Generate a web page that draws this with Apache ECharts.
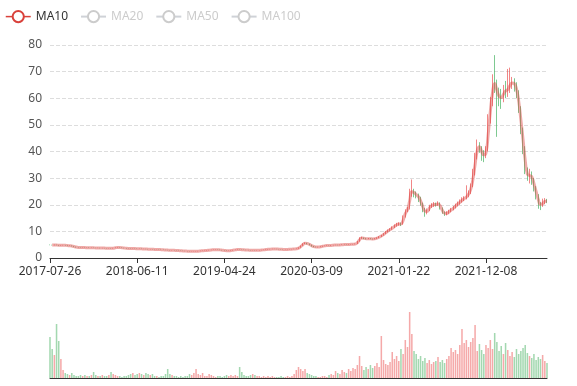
<!DOCTYPE html>
<html>
<head>
<meta charset="utf-8">
<script src="https://cdn.jsdelivr.net/npm/echarts@6/dist/echarts.min.js"></script>
<style>html,body{margin:0;padding:0;background:#fff}#c{width:577px;height:386px}</style>
</head>
<body>
<div id="c"></div>
<script>
// Tick labels on the category axis (one every labelStep candles)
const tickDates = ['2017-07-26', '2018-06-11', '2019-04-24', '2020-03-09', '2021-01-22', '2021-12-08'];
const labelStep = 40;

// Candles: [open, close, low, high] (each candle ~ one trading week)
const candles = [
[4.95,4.90,4.80,5.05],[4.90,4.80,4.72,4.98],[4.80,4.95,4.76,5.02],[4.95,4.85,4.78,5.00],[4.85,4.70,4.62,4.90],
[4.70,4.80,4.66,4.86],[4.80,4.85,4.74,4.92],[4.85,4.75,4.68,4.90],[4.75,4.60,4.55,4.80],[4.60,4.65,4.52,4.72],
[4.65,4.40,4.36,4.70],[4.40,4.20,4.15,4.45],[4.20,4.00,3.94,4.25],[4.00,3.95,3.88,4.06],[3.95,3.90,3.84,4.00],
[3.90,3.95,3.86,4.02],[3.95,3.85,3.80,3.98],[3.85,3.90,3.81,3.96],[3.90,3.80,3.75,3.94],[3.80,3.85,3.76,3.90],
[3.85,3.80,3.74,3.89],[3.80,3.75,3.70,3.84],[3.75,3.80,3.71,3.85],[3.80,3.70,3.65,3.83],[3.70,3.75,3.66,3.80],
[3.75,3.70,3.64,3.78],[3.70,3.65,3.60,3.74],[3.65,3.70,3.61,3.75],[3.70,3.60,3.56,3.73],[3.60,3.75,3.58,3.80],
[3.75,3.90,3.72,3.96],[3.90,4.00,3.86,4.08],[4.00,3.90,3.85,4.04],[3.90,3.80,3.75,3.94],[3.80,3.70,3.66,3.84],
[3.70,3.60,3.55,3.74],[3.60,3.55,3.50,3.65],[3.55,3.50,3.45,3.60],[3.50,3.55,3.46,3.60],[3.55,3.50,3.45,3.58],
[3.50,3.45,3.40,3.54],[3.45,3.50,3.42,3.56],[3.50,3.40,3.36,3.53],[3.40,3.40,3.34,3.46],[3.40,3.35,3.30,3.44],
[3.35,3.30,3.25,3.40],[3.30,3.30,3.24,3.36],[3.30,3.25,3.20,3.34],[3.25,3.20,3.15,3.29],[3.20,3.20,3.14,3.26],
[3.20,3.15,3.10,3.24],[3.15,3.10,3.05,3.19],[3.10,3.05,3.00,3.14],[3.05,3.00,2.95,3.09],[3.00,2.95,2.90,3.04],
[2.95,2.90,2.85,2.99],[2.90,2.90,2.84,2.96],[2.90,2.85,2.80,2.94],[2.85,2.80,2.75,2.89],[2.80,2.75,2.70,2.84],
[2.75,2.70,2.65,2.79],[2.70,2.65,2.60,2.74],[2.65,2.60,2.55,2.69],[2.60,2.55,2.50,2.64],[2.55,2.50,2.45,2.59],
[2.50,2.50,2.44,2.56],[2.50,2.50,2.45,2.56],[2.50,2.55,2.46,2.60],[2.55,2.60,2.51,2.65],[2.60,2.70,2.56,2.75],
[2.70,2.75,2.65,2.80],[2.75,2.80,2.70,2.86],[2.80,2.90,2.76,2.95],[2.90,3.00,2.86,3.06],[3.00,3.05,2.95,3.10],
[3.05,3.10,3.00,3.16],[3.10,3.15,3.05,3.22],[3.15,3.10,3.04,3.20],[3.10,3.00,2.95,3.14],[3.00,2.90,2.85,3.04],
[2.90,2.80,2.75,2.94],[2.80,2.70,2.65,2.84],[2.70,2.75,2.66,2.80],[2.75,2.85,2.71,2.90],[2.85,3.00,2.81,3.05],
[3.00,3.10,2.96,3.16],[3.10,3.20,3.06,3.26],[3.20,3.15,3.10,3.24],[3.15,3.10,3.05,3.19],[3.10,3.05,3.00,3.14],
[3.05,3.00,2.95,3.09],[3.00,2.95,2.90,3.04],[2.95,2.90,2.85,2.99],[2.90,2.90,2.84,2.96],[2.90,2.85,2.80,2.94],
[2.85,2.90,2.81,2.95],[2.90,2.95,2.86,3.00],[2.95,3.00,2.91,3.05],[3.00,3.10,2.96,3.15],[3.10,3.20,3.06,3.26],
[3.20,3.30,3.16,3.36],[3.30,3.35,3.25,3.40],[3.35,3.40,3.30,3.46],[3.40,3.40,3.34,3.46],[3.40,3.35,3.30,3.44],
[3.35,3.30,3.25,3.39],[3.30,3.25,3.20,3.34],[3.25,3.20,3.15,3.29],[3.20,3.20,3.14,3.26],[3.20,3.25,3.16,3.30],
[3.25,3.30,3.21,3.35],[3.30,3.35,3.26,3.40],[3.35,3.40,3.31,3.46],[3.40,3.50,3.36,3.56],[3.50,3.90,3.46,3.98],
[3.90,4.60,3.86,4.70],[4.60,5.40,4.55,5.55],[5.40,5.60,5.25,5.85],[5.60,5.30,5.15,5.70],[5.30,4.90,4.80,5.40],
[4.90,4.40,4.30,5.00],[4.40,4.20,4.10,4.50],[4.20,4.10,4.00,4.28],[4.10,4.10,3.98,4.22],[4.10,4.30,4.05,4.38],
[4.30,4.50,4.25,4.58],[4.50,4.60,4.44,4.68],[4.60,4.70,4.54,4.78],[4.70,4.65,4.58,4.76],[4.65,4.80,4.60,4.86],
[4.80,4.85,4.74,4.92],[4.85,4.90,4.78,4.98],[4.90,4.85,4.78,4.96],[4.85,4.95,4.80,5.02],[4.95,5.00,4.88,5.08],
[5.00,5.05,4.94,5.12],[5.05,5.00,4.92,5.10],[5.00,5.10,4.95,5.18],[5.10,5.15,5.04,5.22],[5.15,5.20,5.08,5.28],
[5.20,5.30,5.14,5.40],[5.30,6.20,5.26,6.40],[6.20,7.40,6.15,7.80],[7.40,7.60,7.20,8.00],[7.60,7.30,7.10,7.70],
[7.30,7.20,7.00,7.45],[7.20,7.35,7.08,7.50],[7.35,7.20,7.05,7.45],[7.20,7.10,6.95,7.30],[7.10,7.30,7.02,7.45],
[7.30,7.60,7.20,7.75],[7.60,8.00,7.50,8.20],[8.00,8.50,7.90,8.70],[8.50,9.10,8.40,9.35],[9.10,9.80,9.00,10.1],
[9.80,10.4,9.60,10.7],[10.4,10.8,10.2,11.2],[10.8,11.5,10.6,11.9],[11.5,12.2,11.3,12.6],[12.2,12.6,11.8,13.2],
[12.6,12.9,12.1,13.4],[12.9,12.7,12.0,13.3],[12.7,15.5,12.5,16.0],[15.5,17.8,15.2,18.3],[17.8,18.4,17.3,19.2],
[18.4,24.5,18.2,26.0],[24.5,25.2,23.0,29.5],[25.2,24.0,22.8,26.0],[24.0,23.6,22.4,25.0],[23.6,22.5,21.0,24.2],
[22.5,20.5,19.6,23.0],[20.5,18.2,17.2,20.8],[18.2,17.0,15.5,18.8],[17.0,18.0,16.4,18.6],[18.0,19.4,17.6,20.0],
[19.4,19.8,18.8,20.6],[19.8,20.2,19.2,21.0],[20.2,20.0,19.3,20.8],[20.0,20.6,19.6,21.3],[20.6,18.6,18.2,20.9],
[18.6,17.2,16.6,19.0],[17.2,16.5,15.8,17.5],[16.5,17.0,16.0,17.6],[17.0,17.6,16.6,18.1],[17.6,18.3,17.2,18.8],
[18.3,19.0,17.9,19.5],[19.0,19.8,18.6,20.4],[19.8,20.6,19.4,21.2],[20.6,21.2,20.0,22.0],[21.2,22.0,20.8,22.8],
[22.0,22.5,21.4,23.2],[22.5,23.3,22.0,27.3],[23.3,24.5,22.8,25.4],[24.5,27.0,24.0,28.0],[27.0,32.0,26.6,33.5],
[32.0,38.0,31.0,39.5],[38.0,42.5,37.0,44.5],[42.5,41.0,39.5,43.5],[41.0,39.0,36.5,42.0],[39.0,38.5,36.0,40.5],
[38.5,40.5,37.5,42.0],[40.5,52.0,40.0,54.0],[52.0,58.0,50.5,60.5],[58.0,66.0,57.0,69.0],[66.0,65.0,62.0,76.2],
[65.0,61.0,45.5,67.0],[61.0,60.5,57.0,64.0],[60.5,60.0,56.0,63.5],[60.0,63.0,58.5,65.0],[63.0,62.5,60.0,66.5],
[62.5,64.0,60.5,71.0],[64.0,65.5,62.0,71.5],[65.5,66.0,63.5,68.0],[66.0,65.0,62.5,67.5],[65.0,62.0,60.0,66.0],
[62.0,56.0,54.5,63.0],[56.0,48.0,46.5,57.0],[48.0,41.0,39.0,49.0],[41.0,32.5,31.5,42.0],[32.5,30.5,29.0,34.0],
[30.5,31.5,28.0,33.5],[31.5,29.5,27.5,32.5],[29.5,26.5,25.0,30.0],[26.5,23.5,22.0,27.0],[23.5,20.5,18.5,24.0],
[20.5,19.8,18.0,21.0],[19.8,21.0,19.2,22.3],[21.0,21.5,20.2,22.5],[21.5,21.3,20.6,22.2]
];

// Volume per candle
const volumes = [
41,29,23,54,37,19,8,5,4,3, 5,3,2,2,3,2,3,2,2,3, 6,3,2,2,3,2,2,3,6,4,
3,2,2,1,2,2,3,4,5,3, 4,5,4,3,5,4,3,4,2,2, 1,2,2,4,9,4,3,2,2,1,
2,1,2,2,4,3,5,9,4,3, 5,2,2,4,3,2,1,2,2,1, 2,3,2,3,2,3,2,11,6,3,
2,2,3,4,3,2,2,1,2,1, 2,1,2,1,1,1,2,1,1,2, 1,2,4,8,11,9,7,9,5,4,
3,2,2,1,1,2,2,1,3,4, 3,7,5,4,8,6,5,9,7,10, 9,13,22,12,8,11,9,13,10,12,
15,11,42,18,14,13,16,26,19,22, 17,29,24,38,31,66,44,27,24,19, 22,17,20,15,18,14,16,17,21,16,
18,15,19,22,30,26,28,24,33,49, 35,38,31,36,40,53,27,34,28,24, 33,30,38,29,45,36,27,32,24,35,
28,22,26,21,29,24,27,30,33,25, 22,20,24,18,21,19,23,17,15
];

const maNames = ['MA10', 'MA20', 'MA50', 'MA100'];
const maPeriods = [2, 4, 10, 20]; // candles per moving-average window (each candle ~5 trading days)

const UP = '#eb5454', DOWN = '#47b262';

function buildDates() {
  const out = [];
  for (let i = 0; i < candles.length; i++) {
    const k = Math.min(Math.floor(i / labelStep), tickDates.length - 1);
    const off = i - k * labelStep;
    const d = new Date(tickDates[k] + 'T00:00:00Z');
    d.setUTCDate(d.getUTCDate() + off * 8);
    out.push(d.toISOString().slice(0, 10));
  }
  return out;
}
const dates = buildDates();

function calcMA(n) {
  const r = [];
  for (let i = 0; i < candles.length; i++) {
    if (i < n - 1) { r.push('-'); continue; }
    let s = 0;
    for (let j = 0; j < n; j++) s += candles[i - j][1];
    r.push(+(s / n).toFixed(3));
  }
  return r;
}

const volData = volumes.map((v, i) => ({
  value: v,
  itemStyle: { color: candles[i][1] >= candles[i][0] ? UP : DOWN }
}));

const font = 'Noto Sans';
const chart = echarts.init(document.getElementById('c'), null, { renderer: 'canvas' });
chart.setOption({
  animation: false,
  textStyle: { fontFamily: font },
  legend: {
    left: 0, top: 5,
    data: maNames,
    itemWidth: 25, itemHeight: 14, itemGap: 12,
    selected: { MA20: false, MA50: false, MA100: false },
    textStyle: { color: '#333', fontSize: 12, fontFamily: font },
    inactiveColor: '#ccc',
    lineStyle: { width: 1.5, opacity: 1 },
    itemStyle: { borderWidth: 1.5, opacity: 1 }
  },
  grid: [
    { left: 50, right: 30, top: 45, height: 213 },
    { left: 50, right: 30, top: 308, height: 70 }
  ],
  xAxis: [
    {
      type: 'category', data: dates, boundaryGap: false, gridIndex: 0,
      axisLine: { lineStyle: { color: '#333' } },
      axisTick: { interval: labelStep - 1, length: 5, lineStyle: { color: '#333' } },
      axisLabel: { interval: labelStep - 1, color: '#333', fontSize: 12, fontFamily: font },
      splitLine: { show: false }
    },
    {
      type: 'category', data: dates, boundaryGap: false, gridIndex: 1,
      axisLine: { lineStyle: { color: '#333' } },
      axisTick: { show: false }, axisLabel: { show: false }, splitLine: { show: false }
    }
  ],
  yAxis: [
    {
      type: 'value', gridIndex: 0, min: 0, max: 80, interval: 10,
      axisLine: { show: false }, axisTick: { show: false },
      axisLabel: { color: '#555', fontSize: 12, fontFamily: font },
      splitLine: { lineStyle: { type: 'dashed', color: '#ddd' } }
    },
    {
      type: 'value', gridIndex: 1, min: 0, max: 70,
      axisLine: { show: false }, axisTick: { show: false }, axisLabel: { show: false }, splitLine: { show: false }
    }
  ],
  series: [
    {
      name: 'K', type: 'candlestick', data: candles.map(c => [c[0], c[1], c[2], c[3]]),
      xAxisIndex: 0, yAxisIndex: 0, barWidth: '55%',
      itemStyle: { color: UP, color0: DOWN, borderColor: UP, borderColor0: DOWN, opacity: 0.7 }
    },
    ...maNames.map((name, k) => ({
      name, type: 'line', data: calcMA(maPeriods[k]), smooth: true, showSymbol: false,
      symbol: 'emptyCircle', symbolSize: 8,
      xAxisIndex: 0, yAxisIndex: 0,
      itemStyle: { color: ['#d9413b', '#91cc75', '#fac858', '#5470c6'][k] },
      lineStyle: { width: 3, opacity: 0.45 }
    })),
    {
      name: 'Volume', type: 'bar', data: volData, xAxisIndex: 1, yAxisIndex: 1,
      barWidth: '70%', itemStyle: { opacity: 0.5 }
    }
  ]
});
</script>
</body>
</html>
